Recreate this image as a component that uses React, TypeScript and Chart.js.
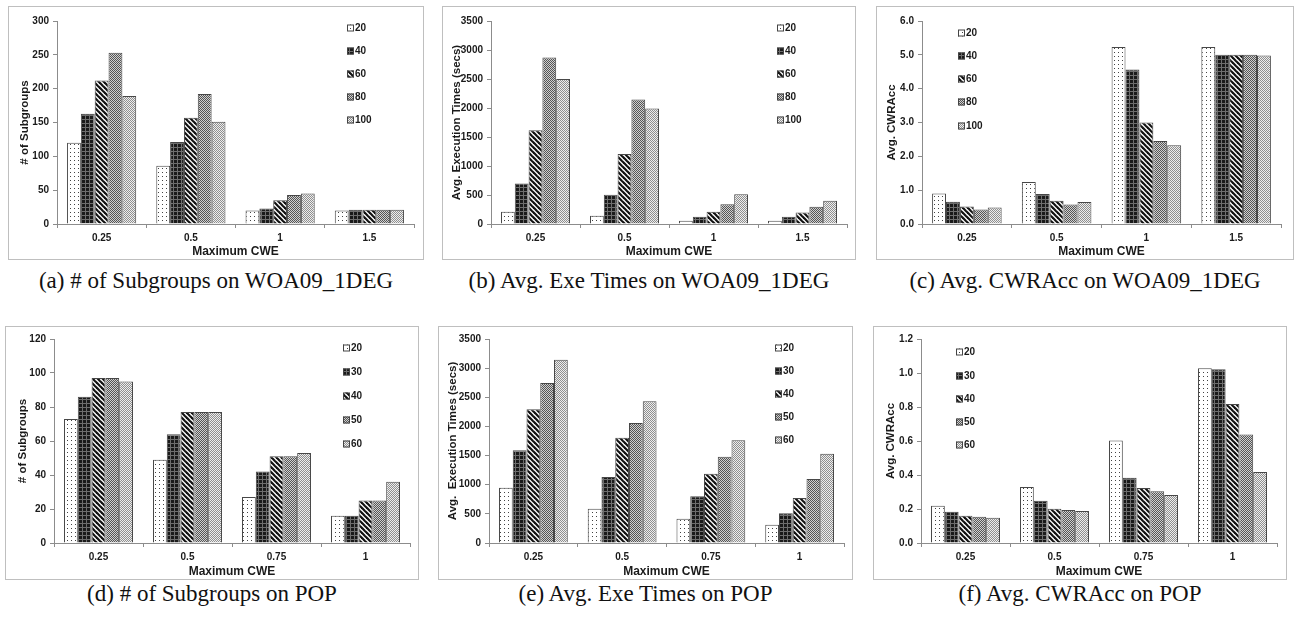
import React, { useEffect, useRef } from "react";
import { Chart, registerables } from "chart.js";
Chart.register(...registerables);

// ---------- data ----------
const woaCategories = ["0.25", "0.5", "1", "1.5"];
const popCategories = ["0.25", "0.5", "0.75", "1"];
const woaSeries = ["20", "40", "60", "80", "100"];
const popSeries = ["20", "30", "40", "50", "60"];

const woaSubgroups = [
  [120, 86, 20, 20],
  [163, 121, 23, 21],
  [212, 157, 35, 21],
  [253, 192, 43, 21],
  [189, 151, 45, 21],
];
const woaTimes = [
  [212, 143, 57, 57],
  [700, 505, 126, 126],
  [1618, 1205, 212, 200],
  [2869, 2146, 339, 298],
  [2501, 1991, 511, 402],
];
const woaCwracc = [
  [0.9, 1.24, 5.23, 5.23],
  [0.66, 0.89, 4.57, 5.0],
  [0.52, 0.69, 3.0, 5.0],
  [0.43, 0.58, 2.45, 5.0],
  [0.49, 0.65, 2.33, 4.98],
];
const popSubgroups = [
  [73, 49, 27, 16],
  [86, 64, 42, 16],
  [97, 77, 51, 25],
  [97, 77, 51, 25],
  [95, 77, 53, 36],
];
const popTimes = [
  [949, 589, 417, 315],
  [1590, 1132, 801, 509],
  [2293, 1807, 1190, 772],
  [2745, 2059, 1481, 1098],
  [3145, 2431, 1761, 1533],
];
const popCwracc = [
  [0.219, 0.329, 0.603, 1.028],
  [0.184, 0.249, 0.384, 1.022],
  [0.161, 0.202, 0.323, 0.818],
  [0.155, 0.194, 0.305, 0.638],
  [0.149, 0.188, 0.282, 0.417],
];

const woaSubgroupTicks = [0, 50, 100, 150, 200, 250, 300];
const timeTicks = [0, 500, 1000, 1500, 2000, 2500, 3000, 3500];
const woaCwraccTicks = [0, 1, 2, 3, 4, 5, 6];
const popSubgroupTicks = [0, 20, 40, 60, 80, 100, 120];
const popCwraccTicks = [0, 0.2, 0.4, 0.6, 0.8, 1.0, 1.2];

const xTitle = "Maximum CWE";

// ---------- style / layout ----------
const FONT = "'Liberation Sans', Arial, sans-serif";

type Panel = {
  box: { x: number; y: number; w: number; h: number };
  plot: { l: number; t: number; r: number; b: number };
  yTitleX: number;
  yTitle: string;
  cats: string[];
  series: string[];
  values: number[][];
  ticks: number[];
  decimals: number;
  legend: { x: number; ys: number[] };
  caption: string;
  captionY: number;
};

const panels: Panel[] = [
  {
    box: { x: 8, y: 6, w: 416, h: 254 },
    plot: { l: 57, t: 21, r: 414, b: 224 },
    yTitleX: 25,
    yTitle: "# of Subgroups",
    cats: woaCategories,
    series: woaSeries,
    values: woaSubgroups,
    ticks: woaSubgroupTicks,
    decimals: 0,
    legend: { x: 347, ys: [28, 51, 74, 97, 120] },
    caption: "(a) # of Subgroups on WOA09_1DEG",
    captionY: 280,
  },
  {
    box: { x: 442, y: 6, w: 414, h: 254 },
    plot: { l: 491, t: 21, r: 847, b: 224 },
    yTitleX: 457,
    yTitle: "Avg. Execution Times (secs)",
    cats: woaCategories,
    series: woaSeries,
    values: woaTimes,
    ticks: timeTicks,
    decimals: 0,
    legend: { x: 777, ys: [28, 51, 74, 97, 120] },
    caption: "(b) Avg. Exe Times on WOA09_1DEG",
    captionY: 280,
  },
  {
    box: { x: 876, y: 6, w: 418, h: 254 },
    plot: { l: 922, t: 21, r: 1281, b: 224 },
    yTitleX: 892,
    yTitle: "Avg. CWRAcc",
    cats: woaCategories,
    series: woaSeries,
    values: woaCwracc,
    ticks: woaCwraccTicks,
    decimals: 1,
    legend: { x: 958, ys: [33, 56, 79, 102, 126] },
    caption: "(c) Avg. CWRAcc on WOA09_1DEG",
    captionY: 280,
  },
  {
    box: { x: 5, y: 326, w: 414, h: 254 },
    plot: { l: 54, t: 339, r: 410, b: 543 },
    yTitleX: 23,
    yTitle: "# of Subgroups",
    cats: popCategories,
    series: popSeries,
    values: popSubgroups,
    ticks: popSubgroupTicks,
    decimals: 0,
    legend: { x: 343, ys: [348, 372, 396, 420, 444] },
    caption: "(d) # of Subgroups on POP",
    captionY: 593,
  },
  {
    box: { x: 438, y: 326, w: 415, h: 254 },
    plot: { l: 489, t: 339, r: 844, b: 543 },
    yTitleX: 453,
    yTitle: "Avg.  Execution Times (secs)",
    cats: popCategories,
    series: popSeries,
    values: popTimes,
    ticks: timeTicks,
    decimals: 0,
    legend: { x: 775, ys: [348, 371, 394, 417, 440] },
    caption: "(e) Avg. Exe Times on POP",
    captionY: 593,
  },
  {
    box: { x: 873, y: 326, w: 414, h: 254 },
    plot: { l: 921, t: 339, r: 1277, b: 543 },
    yTitleX: 891,
    yTitle: "Avg. CWRAcc",
    cats: popCategories,
    series: popSeries,
    values: popCwracc,
    ticks: popCwraccTicks,
    decimals: 1,
    legend: { x: 956, ys: [352, 376, 399, 422, 445] },
    caption: "(f) Avg. CWRAcc on POP",
    captionY: 593,
  },
];

function makePattern(kind: number): CanvasPattern | string {
  const c = document.createElement("canvas");
  let size = 4;
  if (kind === 2) size = 5;
  c.width = size;
  c.height = size;
  const g = c.getContext("2d");
  if (!g) return "#999";
  if (kind === 0) {
    g.fillStyle = "#ffffff";
    g.fillRect(0, 0, 4, 4);
    g.fillStyle = "#444444";
    g.fillRect(1, 1, 1, 1);
  } else if (kind === 1) {
    g.fillStyle = "#1a1a1a";
    g.fillRect(0, 0, 4, 4);
    g.fillStyle = "#6e6e6e";
    g.fillRect(0, 0, 4, 1);
    g.fillRect(0, 0, 1, 4);
  } else if (kind === 2) {
    g.fillStyle = "#ffffff";
    g.fillRect(0, 0, size, size);
    g.strokeStyle = "#111111";
    g.lineWidth = 2.2;
    for (const o of [-size, 0, size]) {
      g.beginPath();
      g.moveTo(o - 1, -1);
      g.lineTo(o + size + 1, size + 1);
      g.stroke();
    }
  } else if (kind === 3) {
    for (let i = 0; i < 4; i++)
      for (let j = 0; j < 4; j++) {
        g.fillStyle = (i + j) % 2 === 0 ? "#555555" : "#d0d0d0";
        g.fillRect(i, j, 1, 1);
      }
  } else {
    for (let i = 0; i < 4; i++)
      for (let j = 0; j < 4; j++) {
        g.fillStyle = (i + j) % 2 === 0 ? "#8f8f8f" : "#eeeeee";
        g.fillRect(i, j, 1, 1);
      }
  }
  return g.createPattern(c, "repeat") || "#999";
}

function PanelChart({ p }: { p: Panel }) {
  const ref = useRef<HTMLCanvasElement | null>(null);
  const W = p.box.w - 2;
  const H = p.box.h - 2;
  useEffect(() => {
    if (!ref.current) return;
    const ox = p.box.x + 1;
    const oy = p.box.y + 1;
    const plotL = p.plot.l - ox;
    const plotR = p.plot.r - ox;
    const plotT = p.plot.t - oy;
    const plotB = p.plot.b - oy;
    const patterns = [0, 1, 2, 3, 4].map((k) => makePattern(k));
    const lx = p.legend.x - ox;
    const lys = p.legend.ys.map((y) => y - oy);
    const yTitleSize = 11.5;
    const xTitleSize = 12;
    const yTitleLH = yTitleSize * 1.2;
    const yTitleCenter = p.yTitleX - ox;

    const legendPlugin = {
      id: "patLegend",
      afterDraw(chart: any) {
        const ctx = chart.ctx as CanvasRenderingContext2D;
        ctx.save();
        chart.data.datasets.forEach((ds: any, i: number) => {
          const y = lys[i];
          ctx.fillStyle = ds.backgroundColor;
          ctx.fillRect(lx, y - 3.5, 7, 7);
          ctx.strokeStyle = "#444";
          ctx.lineWidth = 1;
          ctx.strokeRect(lx + 0.5, y - 3, 6, 6);
          ctx.fillStyle = "#1a1a1a";
          ctx.font = `bold 10px ${FONT}`;
          ctx.textBaseline = "middle";
          ctx.textAlign = "left";
          ctx.fillText(ds.label, lx + 8, y);
        });
        ctx.restore();
      },
    };

    const step = +(p.ticks[1] - p.ticks[0]).toFixed(6);
    const chart = new Chart(ref.current, {
      type: "bar",
      data: {
        labels: p.cats,
        datasets: p.series.map((s, i) => ({
          label: s,
          data: p.values[i],
          backgroundColor: patterns[i] as any,
          borderColor: "#474747",
          borderWidth: 1,
          barPercentage: 1,
          categoryPercentage: 0.775,
        })),
      },
      options: {
        responsive: false,
        maintainAspectRatio: false,
        animation: false,
        events: [],
        layout: { padding: { left: 0, top: plotT, right: W - plotR, bottom: 0 } },
        plugins: { legend: { display: false }, tooltip: { enabled: false } },
        scales: {
          x: {
            type: "category",
            offset: true,
            grid: {
              display: true,
              drawOnChartArea: false,
              drawTicks: true,
              tickLength: 4,
              color: "#8c8c8c",
              offset: true,
            },
            border: { display: true, color: "#8c8c8c" },
            ticks: {
              font: { family: FONT, size: 10, weight: "bold" },
              color: "#1a1a1a",
              padding: 4,
              autoSkip: false,
              maxRotation: 0,
            },
            title: {
              display: true,
              text: xTitle,
              font: { family: FONT, size: xTitleSize, weight: "bold" },
              color: "#1a1a1a",
              padding: { top: 0, bottom: 0 },
            },
            afterFit: (s: any) => {
              s.height = H - plotB;
            },
          },
          y: {
            min: p.ticks[0],
            max: p.ticks[p.ticks.length - 1],
            grid: {
              display: true,
              drawOnChartArea: false,
              drawTicks: true,
              tickLength: 4,
              color: "#8c8c8c",
            },
            border: { display: true, color: "#8c8c8c" },
            ticks: {
              stepSize: step,
              font: { family: FONT, size: 10, weight: "bold" },
              color: "#1a1a1a",
              padding: 4,
              callback: (v: any) => Number(v).toFixed(p.decimals),
            },
            title: {
              display: true,
              text: p.yTitle,
              font: { family: FONT, size: yTitleSize, weight: "bold" },
              color: "#1a1a1a",
              padding: { top: yTitleCenter - yTitleLH / 2, bottom: 0 },
            },
            afterFit: (s: any) => {
              s.width = plotL;
            },
          },
        },
      } as any,
      plugins: [legendPlugin],
    });
    return () => chart.destroy();
  }, []);

  return (
    <>
      <div
        style={{
          position: "absolute",
          left: p.box.x,
          top: p.box.y,
          width: p.box.w,
          height: p.box.h,
          boxSizing: "border-box",
          border: "1px solid #bfbfbf",
          background: "#fff",
        }}
      >
        <canvas ref={ref} width={W} height={H} style={{ display: "block", width: W, height: H }} />
      </div>
      <div
        style={{
          position: "absolute",
          left: p.box.x + p.box.w / 2,
          top: p.captionY,
          transform: "translate(-50%, -50%)",
          whiteSpace: "nowrap",
          fontFamily: "'Liberation Serif', 'Times New Roman', serif",
          fontSize: 23,
          color: "#111",
          lineHeight: 1,
        }}
      >
        {p.caption}
      </div>
    </>
  );
}

export default function App() {
  return (
    <div
      style={{
        position: "absolute",
        left: 0,
        top: 0,
        width: 1299,
        height: 619,
        background: "#fff",
        overflow: "hidden",
      }}
    >
      {panels.map((p, i) => (
        <PanelChart key={i} p={p} />
      ))}
    </div>
  );
}
